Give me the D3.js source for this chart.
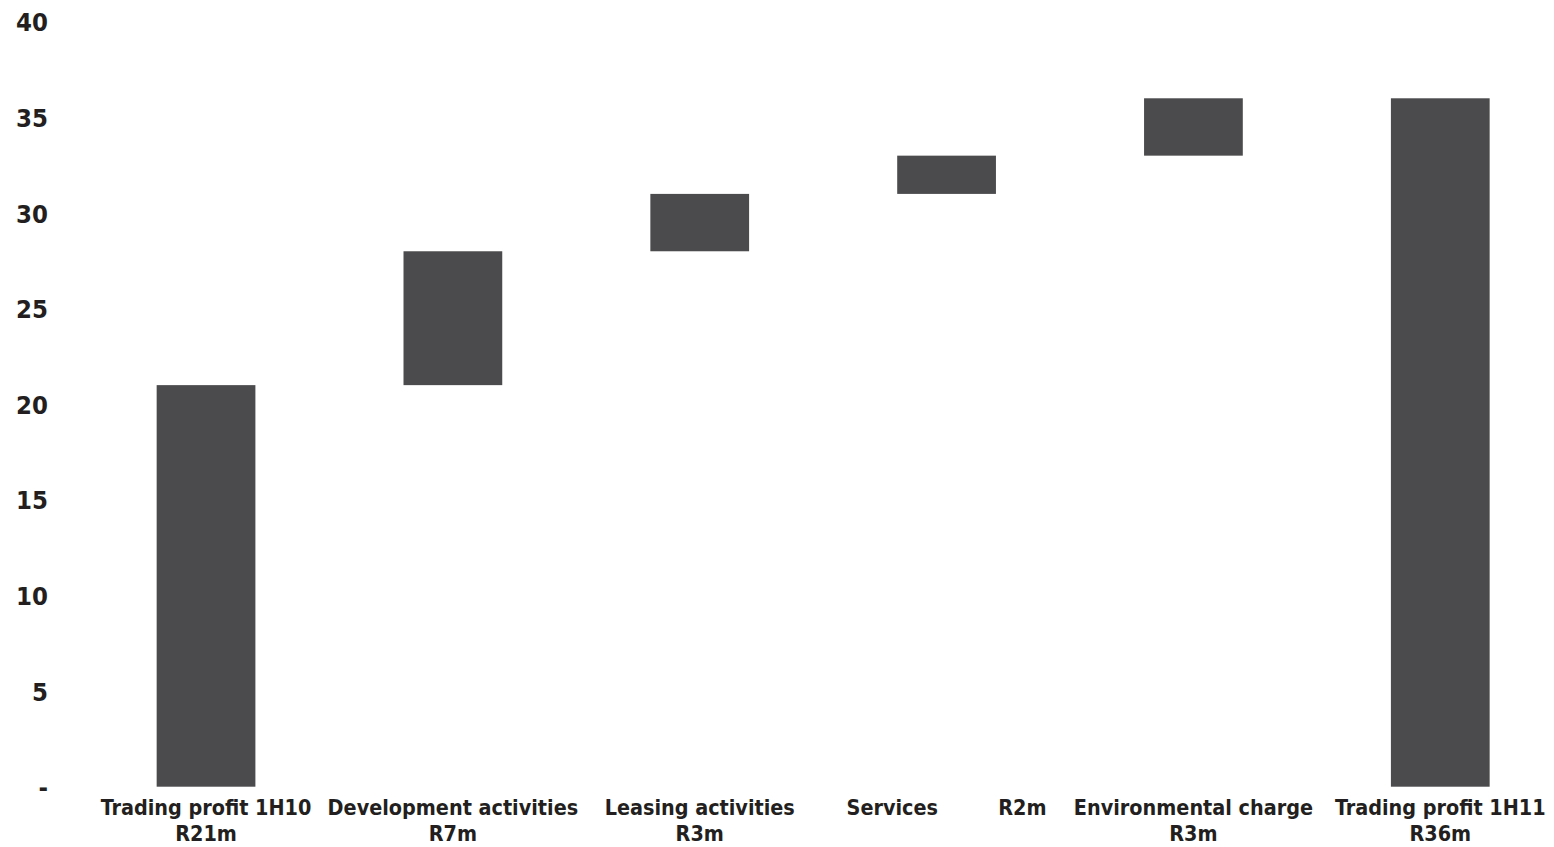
<!DOCTYPE html>
<html>
<head>
<meta charset="utf-8">
<script src="https://cdn.jsdelivr.net/npm/d3@7"></script>
<style>
  html, body { margin: 0; padding: 0; background: #ffffff; }
  svg { display: block; }
  text {
    font-family: "DejaVu Sans Condensed", "DejaVu Sans", sans-serif;
    font-stretch: condensed;
    font-weight: bold;
    fill: #231f20;
  }
</style>
</head>
<body>
<svg id="chart" width="1554" height="847"></svg>
<script>
// Bridge from first-half 2010 trading profit to first-half 2011 (R millions)
const categories = [
  "Trading profit 1H10",
  "Development activities",
  "Leasing activities",
  "Services",
  "Environmental charge",
  "Trading profit 1H11"
];
const amounts = [21, 7, 3, 2, 3, 36];
const amountLabels = ["R21m", "R7m", "R3m", "R2m", "R3m", "R36m"];
const isTotal = [true, false, false, false, false, true];
// Labels shown on a single line, name and amount spread apart
const singleLine = [false, false, false, true, false, false];
const yTicks = [0, 5, 10, 15, 20, 25, 30, 35, 40];
const yTickLabels = ["-", "5", "10", "15", "20", "25", "30", "35", "40"];

// Floating segments: totals start at zero, steps stack on the running sum
let running = 0;
const segments = categories.map((c, i) => {
  let lo, hi;
  if (isTotal[i]) { lo = 0; hi = amounts[i]; running = amounts[i]; }
  else { lo = running; hi = running + amounts[i]; running = hi; }
  return { category: c, lo, hi, label: amountLabels[i], single: singleLine[i] };
});

const svg = d3.select("#chart");

const y = d3.scaleLinear().domain([0, 40]).range([786.7, 21.8]);
const x = d3.scaleBand()
  .domain(categories)
  .range([82.6, 1563.7])
  .paddingInner(0.6)
  .paddingOuter(0.3);

// Value axis: labels only, no line or ticks
const yAxis = d3.axisLeft(y)
  .tickValues(yTicks)
  .tickFormat((d, i) => yTickLabels[i])
  .tickSize(0)
  .tickPadding(0);
const gy = svg.append("g").attr("transform", "translate(48,0)").call(yAxis);
gy.select(".domain").remove();
gy.selectAll("text")
  .attr("x", 0)
  .attr("dy", null)
  .attr("dominant-baseline", "central")
  .style("font-size", "25.5px");

// Bars
svg.append("g")
  .selectAll("rect")
  .data(segments)
  .join("rect")
  .attr("x", d => x(d.category))
  .attr("width", x.bandwidth())
  .attr("y", d => y(d.hi))
  .attr("height", d => y(d.lo) - y(d.hi))
  .attr("fill", "#4b4b4d");

// Category labels
const lab = svg.append("g")
  .selectAll("text")
  .data(segments)
  .join("text")
  .attr("text-anchor", "middle")
  .style("font-size", "21.4px")
  .attr("xml:space", "preserve")
  .style("white-space", "pre");

lab.filter(d => !d.single).each(function (d) {
  const t = d3.select(this);
  const cx = x(d.category) + x.bandwidth() / 2;
  t.append("tspan").attr("x", cx).attr("y", 815).text(d.category);
  t.append("tspan").attr("x", cx).attr("y", 841).text(d.label);
});
lab.filter(d => d.single).each(function (d) {
  const cx = x(d.category) + x.bandwidth() / 2;
  d3.select(this).attr("x", cx).attr("y", 815)
    .text(d.category + "         " + d.label);
});
</script>
</body>
</html>
